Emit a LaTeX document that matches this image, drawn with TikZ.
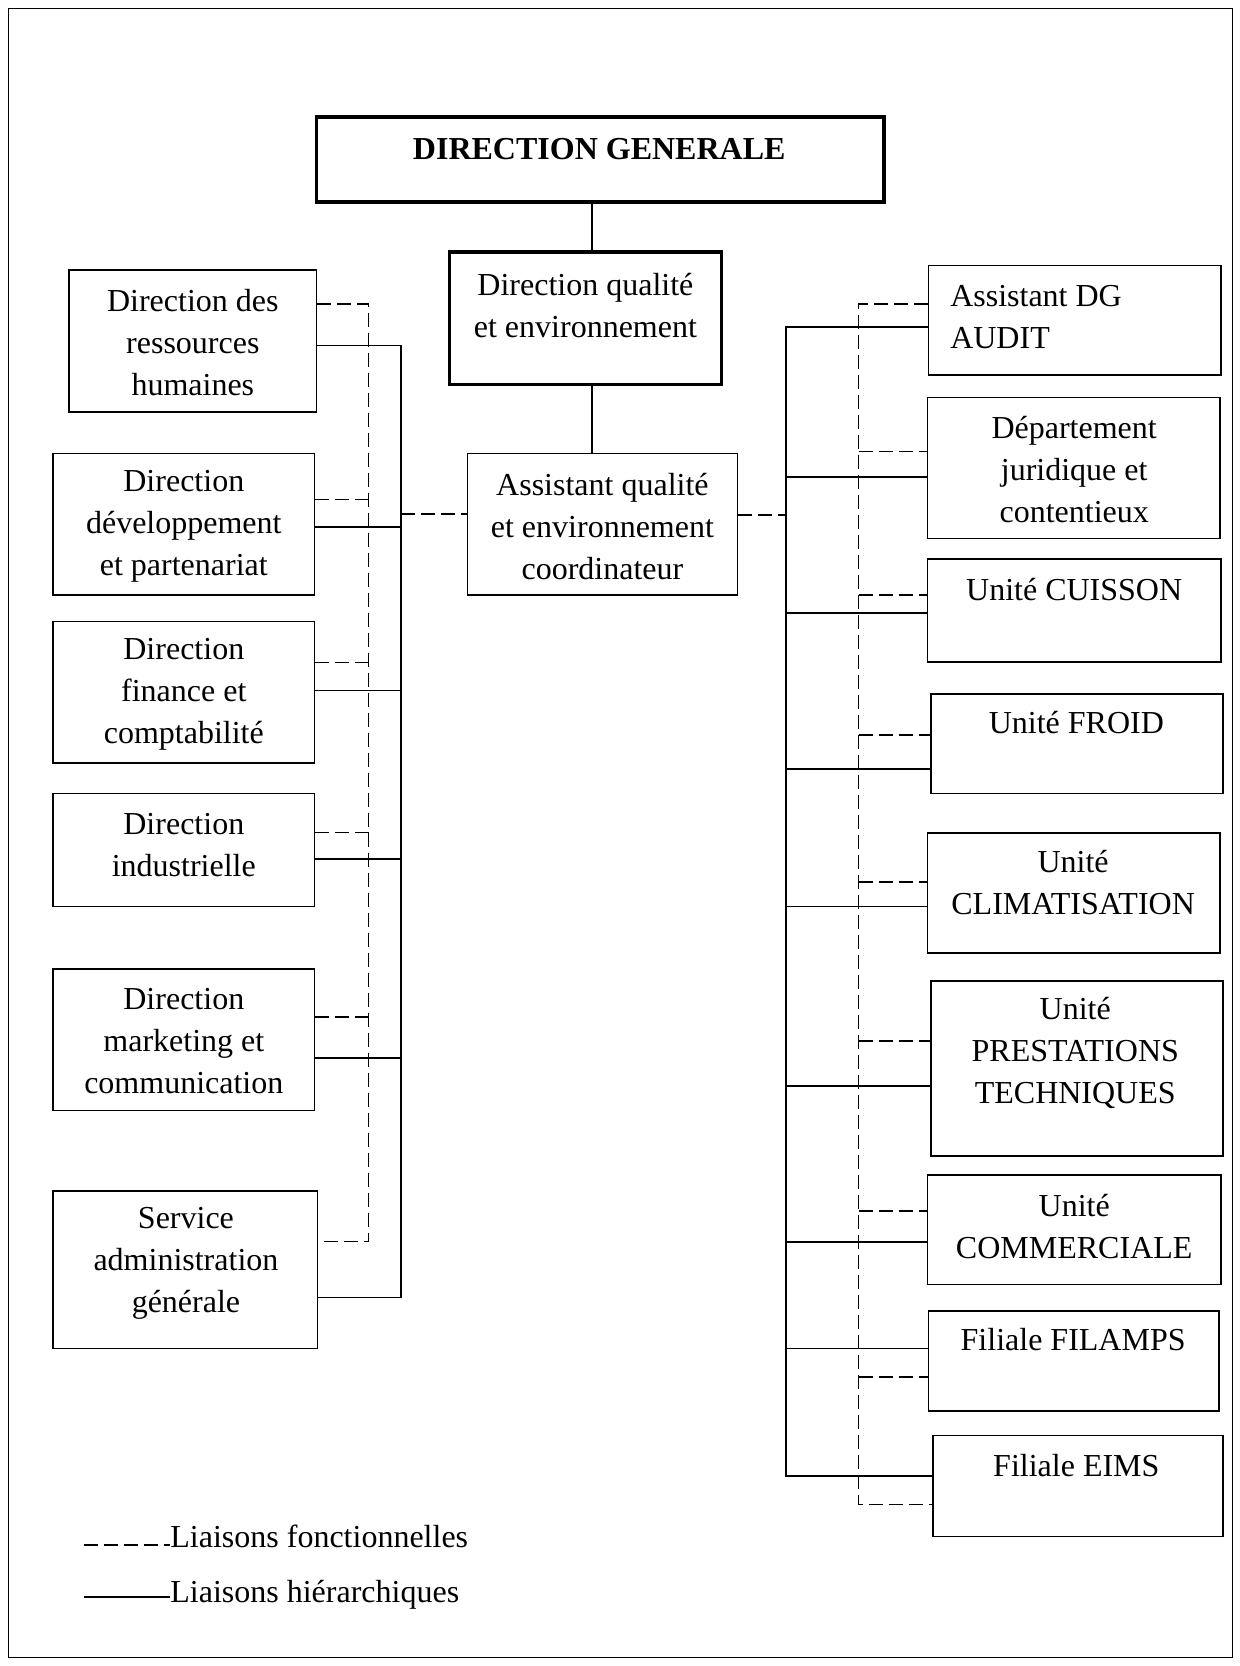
\documentclass[tikz,border=0pt]{standalone}
\usepackage{fontspec}
\setmainfont{Liberation Serif}
\usetikzlibrary{fit}
\begin{document}
\begin{tikzpicture}[x=0.53125pt,y=-0.53125pt,
  box/.style={draw, line width=0.8pt, inner sep=0pt},
  thickbox/.style={draw, line width=1.8pt, inner sep=0pt},
  txt/.style={align=center, inner sep=0pt, font=\fontsize{16pt}{21pt}\selectfont},
  hier/.style={line width=0.8pt},
  func/.style={line width=0.8pt, dash pattern=on 7pt off 3pt},
  frame/.style={line width=0.8pt}]
\useasboundingbox (0,0) rectangle (1167,1568);
\draw[frame] (8,8) rectangle (1160,1560);

% central column
\node[thickbox, fit={(298,110) (832,190)}] (dg) {};
\node[thickbox, fit={(423,237) (679,362)}] (dqe) {};
\node[box, fit={(440,427) (694,560)}] (aqe) {};
\node[txt, anchor=base, font=\fontsize{16pt}{21pt}\selectfont\bfseries] (dgt) at (564,150) {DIRECTION GENERALE};
\node[txt] (dqet) at (551,288) {Direction qualité\\et environnement};
\node[txt] (aqet) at (567,496) {Assistant qualité\\et environnement\\coordinateur};

% left boxes
\node[box, fit={(65,254) (298,388)}] (l1) {};
\node[box, fit={(50,427) (296,560)}] (l2) {};
\node[box, fit={(50,585) (296,718)}] (l3) {};
\node[box, fit={(50,747) (296,853)}] (l4) {};
\node[box, fit={(50,912) (296,1045)}] (l5) {};
\node[box, fit={(50,1121) (299,1269)}] (l6) {};
\node[txt] (l1t) at (181.5,322) {Direction des\\ressources\\humaines};
\node[txt] (l2t) at (173,495) {Direction\\développement\\et partenariat};
\node[txt] (l3t) at (173,653) {Direction\\finance et\\comptabilité};
\node[txt] (l4t) at (173,795) {Direction\\industrielle};
\node[txt] (l5t) at (173,980) {Direction\\marketing et\\communication};
\node[txt] (l6t) at (175,1189) {Service\\administration\\générale};

% right boxes
\node[box, fit={(874,250) (1149,353)}] (r1) {};
\node[box, fit={(873,374) (1148,507)}] (r2) {};
\node[box, fit={(873,526) (1149,623)}] (r3) {};
\node[box, fit={(876,653) (1151,747)}] (r4) {};
\node[box, fit={(873,784) (1148,897)}] (r5) {};
\node[box, fit={(876,923) (1151,1088)}] (r6) {};
\node[box, fit={(873,1106) (1149,1209)}] (r7) {};
\node[box, fit={(874,1234) (1147,1328)}] (r8) {};
\node[box, fit={(878,1351) (1151,1446)}] (r9) {};
\node[txt, anchor=west, align=left] (r1t) at (894,298) {Assistant DG\\AUDIT};
\node[txt] (r2t) at (1011,442) {Département\\juridique et\\contentieux};
\node[txt, anchor=base] (r3t) at (1011,565) {Unité CUISSON};
\node[txt, anchor=base] (r4t) at (1013,690) {Unité FROID};
\node[txt] (r5t) at (1010,831) {Unité\\CLIMATISATION};
\node[txt] (r6t) at (1012,991) {Unité\\PRESTATIONS\\TECHNIQUES};
\node[txt] (r7t) at (1011,1154) {Unité\\COMMERCIALE};
\node[txt, anchor=base] (r8t) at (1010,1271) {Filiale FILAMPS};
\node[txt, anchor=base] (r9t) at (1013,1390) {Filiale EIMS};

% central links
\draw[hier] (dg.south -| 557,0) -- (dqe.north -| 557,0);
\draw[hier] (dqe.south -| 557,0) -- (aqe.north -| 557,0);

% left buses
\coordinate (lbt) at (377.5,325);
\coordinate (lbb) at (377.5,1221);
\coordinate (ldt) at (347,286);
\coordinate (ldb) at (347,1168.6);
\draw[hier] (l1.east |- lbt) -- (lbt) -- (lbb) -- (l6.east |- lbb);
\draw[hier] (l2.east |- 0,496) -- (lbt |- 0,496);
\draw[hier] (l3.east |- 0,650) -- (lbt |- 0,650);
\draw[hier] (l4.east |- 0,808.5) -- (lbt |- 0,808.5);
\draw[hier] (l5.east |- 0,996) -- (lbt |- 0,996);
\draw[func] (l1.east |- ldt) -- (ldt) -- (ldb) -- (l6.east |- ldb);
\draw[func] (l2.east |- 0,470) -- (ldt |- 0,470);
\draw[func] (l3.east |- 0,623.4) -- (ldt |- 0,623.4);
\draw[func] (l4.east |- 0,783.4) -- (ldt |- 0,783.4);
\draw[func] (l5.east |- 0,957) -- (ldt |- 0,957);
\draw[func] (lbt |- 0,484) -- (aqe.west |- 0,484);

% right buses
\coordinate (rbt) at (740,308);
\coordinate (rbb) at (740,1389);
\coordinate (rdt) at (808,286);
\coordinate (rdb) at (808,1416);
\draw[func] (aqe.east |- 0,484.7) -- (rbt |- 0,484.7);
\draw[hier] (r1.west |- rbt) -- (rbt) -- (rbb) -- (r9.west |- rbb);
\draw[hier] (rbt |- 0,449) -- (r2.west |- 0,449);
\draw[hier] (rbt |- 0,577) -- (r3.west |- 0,577);
\draw[hier] (rbt |- 0,724) -- (r4.west |- 0,724);
\draw[hier] (rbt |- 0,853) -- (r5.west |- 0,853);
\draw[hier] (rbt |- 0,1022) -- (r6.west |- 0,1022);
\draw[hier] (rbt |- 0,1169) -- (r7.west |- 0,1169);
\draw[hier] (rbt |- 0,1269) -- (r8.west |- 0,1269);
\draw[func] (r1.west |- rdt) -- (rdt) -- (rdb) -- (r9.west |- rdb);
\draw[func] (rdt |- 0,425) -- (r2.west |- 0,425);
\draw[func] (rdt |- 0,560) -- (r3.west |- 0,560);
\draw[func] (rdt |- 0,692) -- (r4.west |- 0,692);
\draw[func] (rdt |- 0,830) -- (r5.west |- 0,830);
\draw[func] (rdt |- 0,980) -- (r6.west |- 0,980);
\draw[func] (rdt |- 0,1140) -- (r7.west |- 0,1140);
\draw[func] (rdt |- 0,1296) -- (r8.west |- 0,1296);

% legend
\node[txt, anchor=base west] (leg1) at (160,1456) {Liaisons fonctionnelles};
\node[txt, anchor=base west] (leg2) at (160,1508) {Liaisons hiérarchiques};
\coordinate (lg1) at (79,1454);
\coordinate (lg2) at (79,1503);
\draw[func, line width=1pt] (lg1) -- (lg1 -| leg1.west);
\draw[hier, line width=1pt] (lg2) -- (lg2 -| leg2.west);
\end{tikzpicture}
\end{document}
